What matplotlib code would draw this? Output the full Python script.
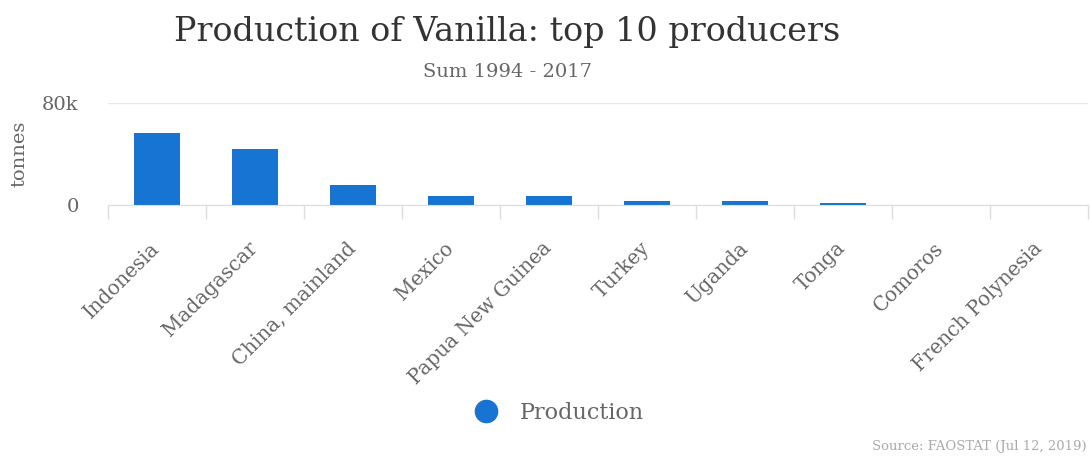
import matplotlib.pyplot as plt
from matplotlib.lines import Line2D

plt.rcParams['font.family'] = 'DejaVu Serif'

countries = ['Indonesia', 'Madagascar', 'China, mainland', 'Mexico', 'Papua New Guinea',
             'Turkey', 'Uganda', 'Tonga', 'Comoros', 'French Polynesia']
production = [56500, 44000, 15800, 7300, 7000, 2900, 2800, 1500, 150, 100]

bar_color = '#1874d2'
text_gray = '#666666'

fig = plt.figure(figsize=(10.9, 4.57), dpi=100)
ax = fig.add_axes([0.099, 0.5514, 0.899, 0.2232])

x = range(len(countries))
ax.bar(x, production, width=0.47, color=bar_color, zorder=3)

ax.set_xlim(-0.5, len(countries) - 0.5)
ax.set_ylim(0, 80000)
ax.set_yticks([0, 80000])
ax.set_yticklabels(['0', '80k'], color=text_gray, fontsize=14)
ax.tick_params(axis='y', length=0, pad=21)
ax.grid(axis='y', color='#e6e6e6', linewidth=1, zorder=0)

# tick marks sit between categories, labels under the bars
ax.set_xticks([i - 0.5 for i in range(len(countries) + 1)], minor=False)
ax.set_xticklabels([])
ax.tick_params(axis='x', length=10, color='#dddddd', width=1)
ax.set_xticks(list(x), minor=True)
ax.set_xticklabels(countries, minor=True, rotation=45, ha='right', va='center',
                   rotation_mode='anchor', color=text_gray, fontsize=14.3)
ax.tick_params(axis='x', which='minor', length=0, pad=29)

for side in ['top', 'right', 'left']:
    ax.spines[side].set_visible(False)
ax.spines['bottom'].set_color('#dddddd')
ax.spines['bottom'].set_zorder(4)

ax.set_ylabel('tonnes', color=text_gray, fontsize=14, labelpad=10)

fig.text(0.465, 0.93, 'Production of Vanilla: top 10 producers', ha='center', va='center',
         fontsize=24, color='#333333')
fig.text(0.466, 0.843, 'Sum 1994 - 2017', ha='center', va='center',
         fontsize=14, color=text_gray)

handle = Line2D([], [], marker='o', linestyle='none', markersize=16,
                markerfacecolor=bar_color, markeredgecolor=bar_color)
fig.legend([handle], ['Production'], loc='center', bbox_to_anchor=(0.508, 0.096),
           frameon=False, fontsize=16, labelcolor=text_gray, handletextpad=0.5)

fig.text(0.997, 0.008, 'Source: FAOSTAT (Jul 12, 2019)', ha='right', va='bottom',
         fontsize=9.5, color='#aaaaaa')

fig.savefig('out.png', dpi=100)
